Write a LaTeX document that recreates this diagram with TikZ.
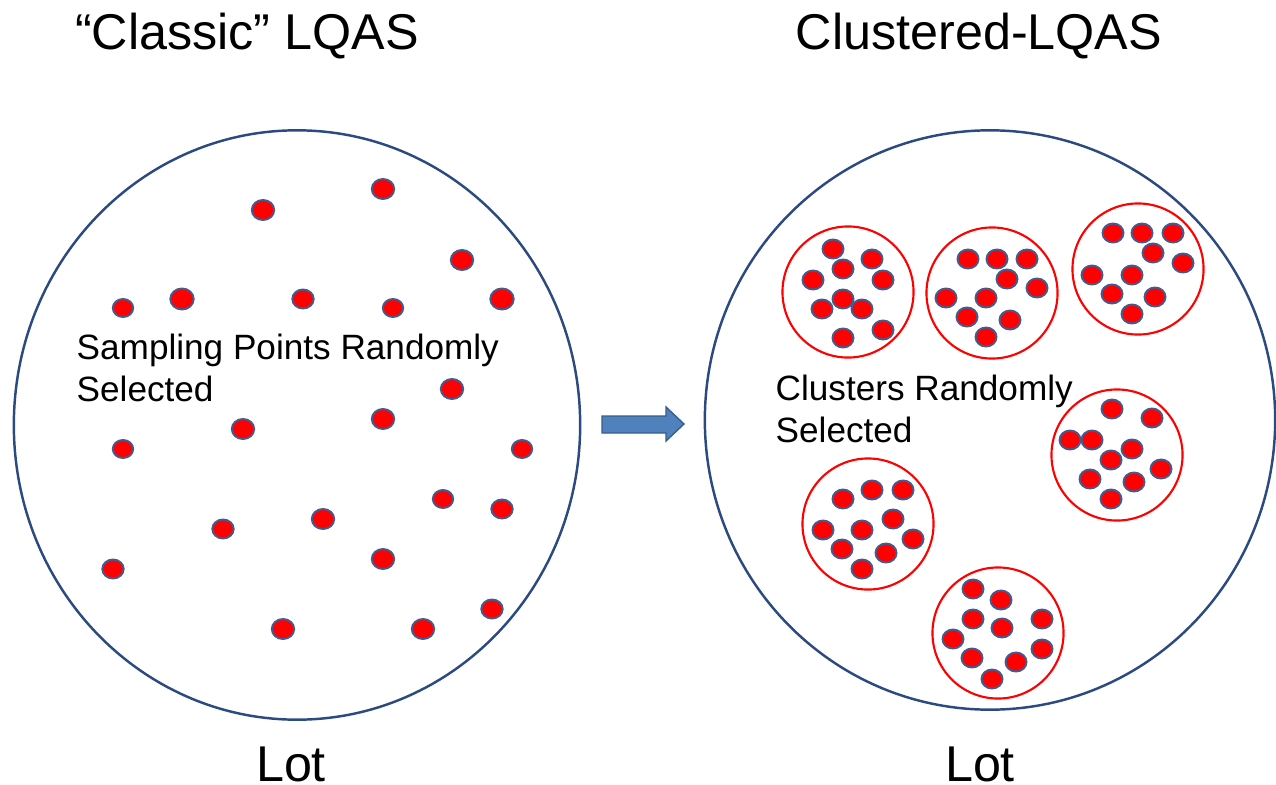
\documentclass[tikz,border=0pt]{standalone}
\usepackage{fontspec}
\setmainfont{Liberation Sans}
\usetikzlibrary{shapes.geometric}

\definecolor{lotblue}{HTML}{2C4A82}
\definecolor{dotrim}{HTML}{405C90}
\definecolor{arrowfill}{HTML}{4F81BD}
\definecolor{arrowrim}{HTML}{385D8A}

\tikzset{
  lot/.style={draw=lotblue, line width=0.7pt, ellipse, inner sep=0pt},
  cluster/.style={draw=red, line width=0.6pt, circle, inner sep=0pt, minimum size=1.31cm},
  dot/.style={fill=red, draw=dotrim, line width=0.55pt},
  heading/.style={anchor=base, inner sep=0pt, font=\fontsize{14.3}{17}\selectfont},
  remark/.style={anchor=north west, inner sep=0pt, align=left, font=\fontsize{10}{12}\selectfont}
}

\begin{document}
\begin{tikzpicture}[x=0.01cm,y=-0.01cm]
\useasboundingbox (0,0) rectangle (1276,785);

% the two lots
\node[lot, minimum width=5.66cm, minimum height=5.89cm] (classic) at (297,425) {};
\node[lot, minimum width=5.70cm, minimum height=5.79cm] (clustered) at (990,420) {};

\node[heading] (classictitle) at (247,50) {``Classic'' LQAS};
\node[heading] (clusteredtitle) at (979,50) {Clustered-LQAS};
\node[heading] (classiclot) at (291,781) {Lot};
\node[heading] (clusteredlot) at (980,781) {Lot};

\node[remark] (pointstext) at (76,333) {Sampling Points Randomly\\Selected};
\node[remark] (clusterstext) at (775,374) {Clusters Randomly\\Selected};

% single sampling points
\foreach \x/\y/\r in {263/210/10.5, 383/189/10.5, 462/260/10.5, 123/308/9.5,
    182/299/11, 303/299/10, 393/308/9.5, 502/299/11, 452/389/10.5,
    123/449/9.5, 243/429/10.5, 383/419/10.5, 522/449/9.5, 443/499/9.5,
    502/509/10, 223/529/10, 323/519/10.5, 113/569/10, 383/559/10.5,
    283/629/10.5, 423/629/10.5, 492/609/10}
  \filldraw[dot] (\x,\y) ellipse [x radius=\r+0.7, y radius=\r-0.5];

% arrow between the lots
\filldraw[fill=arrowfill, draw=arrowrim, line width=0.4pt]
  (602,416) -- (666,416) -- (666,407) -- (684,424) -- (666,441)
  -- (666,433) -- (602,433) -- cycle;

% clusters
\node[cluster] (c1) at (848,292) {};
\node[cluster] (c2) at (992,293) {};
\node[cluster] (c3) at (1138,269) {};
\node[cluster] (c4) at (1117,455) {};
\node[cluster] (c5) at (868,524) {};
\node[cluster] (c6) at (998,633) {};

\foreach \x/\y in {833/249, 843/269, 872/259, 813/280, 883/280,
    843/299, 822/309, 862/309, 883/330, 843/338,
    968/259, 997/259, 1027/259, 1007/279, 1037/288,
    946/298, 986/298, 967/317, 1010/320, 986/337,
    1113/233, 1142/233, 1173/233, 1153/253, 1183/263,
    1092/275, 1132/275, 1112/294, 1155/297, 1132/314,
    1112/409, 1152/418, 1070/440, 1092/440, 1132/449,
    1111/460, 1161/469, 1090/479, 1134/482, 1111/499,
    843/499, 872/490, 903/490, 823/530, 862/530,
    893/519, 913/539, 842/549, 886/553, 862/569,
    973/589, 1001/600, 973/619, 1002/628, 1042/619,
    953/639, 1042/649, 972/658, 1016/662, 992/679}
  \filldraw[dot] (\x,\y) ellipse [x radius=10.5, y radius=9.5];
\end{tikzpicture}
\end{document}
